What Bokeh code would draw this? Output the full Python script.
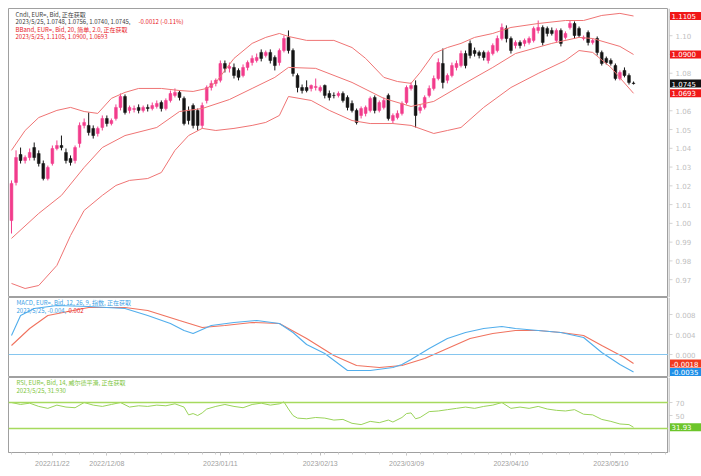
from bokeh.plotting import figure
from bokeh.layouts import column, row
from bokeh.models import Range1d, Label, FixedTicker, ColumnDataSource, Span
from bokeh.core.properties import value
from bokeh.embed import file_html
from bokeh.resources import INLINE

# ---------------- data (EUR= daily) ----------------
opens = [1.0015, 1.0218, 1.0367, 1.0335, 1.0351, 1.0404, 1.0372, 1.0319, 1.0239, 1.0319,
         1.0399, 1.0415, 1.0378, 1.0346, 1.0335, 1.0426, 1.0522, 1.0522, 1.0506, 1.0479,
         1.0511, 1.0559, 1.0532, 1.0559, 1.0618, 1.0676, 1.0602, 1.0607, 1.0618, 1.0602,
         1.0618, 1.0612, 1.0623, 1.0644, 1.0612, 1.0655, 1.0682, 1.0698, 1.0666, 1.0602,
         1.0628, 1.0602, 1.0522, 1.0655, 1.0724, 1.0746, 1.0762, 1.0852, 1.0826, 1.0831,
         1.0815, 1.0788, 1.0831, 1.0857, 1.0868, 1.0911, 1.0895, 1.0911, 1.0884, 1.0857,
         1.0921, 1.0991, 1.0921, 1.0788, 1.0724, 1.0724, 1.0719, 1.0724, 1.0708, 1.0735,
         1.0692, 1.0682, 1.0682, 1.0692, 1.0671, 1.0639, 1.0602, 1.0575, 1.0586, 1.0602,
         1.0671, 1.0602, 1.0618, 1.0682, 1.0548, 1.0564, 1.0586, 1.0644, 1.0719, 1.0735,
         1.0602, 1.0618, 1.0682, 1.0719, 1.0772, 1.0852, 1.0762, 1.0788, 1.0831, 1.0841,
         1.0905, 1.0959, 1.0921, 1.0911, 1.0911, 1.0868, 1.0905, 1.0921, 1.0985, 1.1039,
         1.0985, 1.0948, 1.0964, 1.0959, 1.0964, 1.0975, 1.1028, 1.1044, 1.1039, 1.1028,
         1.0975, 1.1028, 1.0991, 1.1044, 1.1065, 1.1039, 1.0985, 1.1017, 1.0964, 1.0985,
         1.0911, 1.0879, 1.0868, 1.0841, 1.0772, 1.0815, 1.0788, 1.0748]
highs = [1.0229, 1.0389, 1.0404, 1.0362, 1.0399, 1.0431, 1.0389, 1.0335, 1.0308, 1.0415,
         1.0442, 1.0468, 1.0399, 1.0362, 1.0415, 1.0538, 1.0559, 1.0591, 1.0522, 1.0516,
         1.0575, 1.0575, 1.0559, 1.0634, 1.0692, 1.0687, 1.0628, 1.0628, 1.0634, 1.0628,
         1.0634, 1.0644, 1.0655, 1.0655, 1.0666, 1.0708, 1.0719, 1.0708, 1.0676, 1.0623,
         1.0639, 1.0612, 1.0644, 1.0735, 1.0762, 1.0772, 1.0868, 1.0868, 1.0857, 1.0852,
         1.0826, 1.0847, 1.0868, 1.0895, 1.0905, 1.0927, 1.0921, 1.0927, 1.0895, 1.0932,
         1.1001, 1.1028, 1.0932, 1.0799, 1.0740, 1.0762, 1.0740, 1.0772, 1.0735, 1.0740,
         1.0708, 1.0698, 1.0703, 1.0703, 1.0682, 1.0655, 1.0612, 1.0623, 1.0628, 1.0676,
         1.0682, 1.0655, 1.0671, 1.0692, 1.0586, 1.0602, 1.0650, 1.0735, 1.0751, 1.0762,
         1.0634, 1.0682, 1.0735, 1.0788, 1.0879, 1.0932, 1.0799, 1.0857, 1.0868, 1.0921,
         1.0921, 1.0975, 1.0937, 1.0921, 1.0921, 1.0921, 1.0959, 1.1001, 1.1065, 1.1055,
         1.0996, 1.0975, 1.0975, 1.0985, 1.0996, 1.1049, 1.1081, 1.1055, 1.1049, 1.1044,
         1.1039, 1.1039, 1.1023, 1.1081, 1.1076, 1.1049, 1.1001, 1.1028, 1.0985, 1.0996,
         1.0921, 1.0889, 1.0879, 1.0852, 1.0815, 1.0831, 1.0799, 1.0756]
lows = [0.9946, 1.0202, 1.0319, 1.0319, 1.0335, 1.0335, 1.0303, 1.0229, 1.0229, 1.0308,
        1.0389, 1.0389, 1.0319, 1.0308, 1.0319, 1.0404, 1.0506, 1.0468, 1.0452, 1.0463,
        1.0495, 1.0516, 1.0522, 1.0548, 1.0602, 1.0580, 1.0586, 1.0591, 1.0586, 1.0591,
        1.0596, 1.0602, 1.0612, 1.0596, 1.0602, 1.0644, 1.0671, 1.0655, 1.0522, 1.0527,
        1.0506, 1.0495, 1.0506, 1.0639, 1.0708, 1.0730, 1.0751, 1.0804, 1.0804, 1.0772,
        1.0762, 1.0778, 1.0815, 1.0841, 1.0857, 1.0863, 1.0884, 1.0852, 1.0815, 1.0841,
        1.0911, 1.0905, 1.0783, 1.0698, 1.0692, 1.0698, 1.0703, 1.0708, 1.0698, 1.0666,
        1.0655, 1.0666, 1.0671, 1.0644, 1.0602, 1.0591, 1.0527, 1.0559, 1.0570, 1.0591,
        1.0586, 1.0591, 1.0607, 1.0548, 1.0532, 1.0554, 1.0575, 1.0634, 1.0708, 1.0511,
        1.0586, 1.0607, 1.0671, 1.0708, 1.0762, 1.0719, 1.0746, 1.0778, 1.0815, 1.0831,
        1.0826, 1.0879, 1.0889, 1.0879, 1.0868, 1.0852, 1.0895, 1.0911, 1.0975, 1.0964,
        1.0905, 1.0932, 1.0932, 1.0943, 1.0953, 1.0964, 1.1012, 1.0948, 1.0996, 1.1001,
        1.0964, 1.0943, 1.0980, 1.1033, 1.0985, 1.0991, 1.0975, 1.0948, 1.0953, 1.0895,
        1.0841, 1.0847, 1.0841, 1.0762, 1.0762, 1.0778, 1.0740, 1.0740]
closes = [1.0213, 1.0351, 1.0335, 1.0351, 1.0378, 1.0351, 1.0319, 1.0239, 1.0298, 1.0399,
          1.0415, 1.0404, 1.0335, 1.0325, 1.0404, 1.0522, 1.0538, 1.0484, 1.0468, 1.0506,
          1.0559, 1.0532, 1.0548, 1.0618, 1.0676, 1.0591, 1.0618, 1.0612, 1.0602, 1.0618,
          1.0612, 1.0628, 1.0639, 1.0612, 1.0655, 1.0692, 1.0698, 1.0671, 1.0532, 1.0548,
          1.0522, 1.0522, 1.0628, 1.0724, 1.0746, 1.0762, 1.0852, 1.0826, 1.0836, 1.0788,
          1.0778, 1.0831, 1.0857, 1.0879, 1.0884, 1.0879, 1.0911, 1.0868, 1.0841, 1.0921,
          1.0985, 1.0921, 1.0799, 1.0724, 1.0708, 1.0708, 1.0735, 1.0730, 1.0724, 1.0682,
          1.0671, 1.0681, 1.0692, 1.0655, 1.0618, 1.0602, 1.0538, 1.0612, 1.0618, 1.0666,
          1.0602, 1.0644, 1.0655, 1.0559, 1.0575, 1.0586, 1.0639, 1.0724, 1.0735, 1.0575,
          1.0618, 1.0671, 1.0719, 1.0772, 1.0857, 1.0751, 1.0788, 1.0841, 1.0852, 1.0905,
          1.0841, 1.0895, 1.0905, 1.0895, 1.0884, 1.0911, 1.0948, 1.0985, 1.1044, 1.0985,
          1.0921, 1.0964, 1.0948, 1.0975, 1.0985, 1.1039, 1.1044, 1.0964, 1.1012, 1.1012,
          1.1028, 1.0959, 1.1012, 1.1065, 1.1001, 1.1001, 1.0991, 1.0964, 1.0975, 1.0911,
          1.0852, 1.0857, 1.0852, 1.0772, 1.0804, 1.0788, 1.0751, 1.0745]

# Bollinger bands (20, 2.0) read at sample candles
bb_up_x = [0, 3, 6, 10, 13, 16, 19, 22, 25, 28, 33, 37, 40, 43, 45, 49, 53, 56, 59, 61,
           65, 71, 75, 78, 82, 85, 88, 90, 93, 96, 99, 102, 106, 110, 116, 122, 126, 130, 134, 137]
bb_up = [1.0389, 1.0495, 1.0564, 1.0602, 1.0618, 1.0596, 1.0586, 1.0666, 1.0698, 1.0719,
         1.0719, 1.0708, 1.0703, 1.0719, 1.0751, 1.0879, 1.0959, 1.0991, 1.1012, 1.0996,
         1.0975, 1.0975, 1.0937, 1.0879, 1.0778, 1.0756, 1.0746, 1.0804, 1.0905, 1.0937,
         1.0959, 1.0991, 1.1012, 1.1044, 1.1065, 1.1081, 1.1081, 1.1108, 1.1119, 1.1105]
bb_mid_x = [0, 6, 11, 16, 20, 25, 32, 37, 42, 48, 53, 58, 61, 67, 75, 82, 88, 93, 99, 106,
            111, 119, 125, 128, 134, 137]
bb_mid = [0.9920, 1.0053, 1.0149, 1.0298, 1.0404, 1.0468, 1.0511, 1.0596, 1.0612, 1.0660,
          1.0719, 1.0778, 1.0831, 1.0826, 1.0751, 1.0666, 1.0623, 1.0650, 1.0735, 1.0831,
          1.0905, 1.0959, 1.0991, 1.0985, 1.0943, 1.0900]
bb_low_x = [0, 3, 6, 10, 13, 16, 20, 23, 26, 30, 33, 36, 39, 42, 45, 49, 53, 56, 59, 61,
            66, 70, 75, 79, 84, 88, 93, 96, 99, 104, 110, 116, 122, 125, 128, 132, 137]
bb_low = [0.9680, 0.9653, 0.9669, 0.9776, 0.9935, 1.0069, 1.0149, 1.0202, 1.0229, 1.0239,
          1.0271, 1.0389, 1.0468, 1.0506, 1.0495, 1.0506, 1.0522, 1.0538, 1.0575, 1.0676,
          1.0655, 1.0602, 1.0548, 1.0532, 1.0532, 1.0522, 1.0479, 1.0495, 1.0511, 1.0618,
          1.0724, 1.0799, 1.0868, 1.0921, 1.0911, 1.0831, 1.0693]

# MACD (12, 26, 9)
macd_x = [0, 2, 5, 10, 17, 25, 30, 35, 38, 40, 42, 44, 49, 54, 59, 62, 65, 69, 74, 79,
          84, 86, 88, 92, 96, 100, 104, 108, 111, 116, 121, 126, 130, 134, 137]
macd = [0.0038, 0.0078, 0.0092, 0.0098, 0.0096, 0.0092, 0.0078, 0.0062, 0.0048, 0.0042,
        0.0050, 0.0058, 0.0064, 0.0068, 0.0062, 0.0044, 0.0020, 0.0002, -0.0032, -0.0032,
        -0.0026, -0.0020, -0.0010, 0.0012, 0.0032, 0.0044, 0.0052, 0.0056, 0.0052, 0.0048,
        0.0044, 0.0034, 0.0004, -0.0020, -0.0035]
signal_x = [0, 4, 8, 17, 25, 30, 37, 42, 47, 53, 59, 65, 71, 76, 81, 86, 91, 96, 101, 106,
            111, 116, 121, 126, 130, 135, 137]
signal = [0.0018, 0.0052, 0.0078, 0.0094, 0.0094, 0.0088, 0.0068, 0.0054, 0.0058, 0.0064,
          0.0062, 0.0032, -0.0002, -0.0022, -0.0026, -0.0022, -0.0008, 0.0012, 0.0032, 0.0042,
          0.0048, 0.0048, 0.0044, 0.0038, 0.0018, -0.0006, -0.0018]

# RSI (14)
rsi_x = [0, 2, 4, 6, 8, 10, 12, 14, 16, 18, 20, 22, 24, 26, 28, 30, 32, 34, 36, 38,
         39, 40, 41, 42, 43, 45, 47, 49, 51, 53, 55, 57, 59, 60, 61, 62, 63, 65, 67, 69,
         71, 73, 75, 77, 79, 81, 83, 84, 86, 87, 88, 89, 90, 92, 94, 96, 98, 100, 102, 104,
         106, 108, 110, 112, 114, 116, 118, 120, 122, 124, 126, 128, 130, 132, 134, 136, 137]
rsi = [70, 67, 69, 64, 61, 66, 63, 62, 70, 66, 64, 67, 70, 63, 65, 64, 66, 65, 68, 63,
       51, 53, 50, 54, 60, 64, 67, 64, 62, 67, 69, 66, 68, 71, 60, 50, 46, 45, 47, 46,
       43, 44, 38, 36, 41, 39, 43, 40, 47, 53, 54, 45, 47, 56, 57, 59, 61, 63, 61, 64,
       66, 70, 61, 63, 61, 64, 60, 58, 57, 59, 52, 51, 44, 41, 37, 36, 31.93]

date_ticks = [9, 21, 46, 68, 87, 110, 132]
date_labels = ["2022/11/22", "2022/12/08", "2023/01/11", "2023/02/13",
               "2023/03/09", "2023/04/10", "2023/05/10"]
price_ticks = [0.97, 0.98, 0.99, 1.00, 1.01, 1.02, 1.03, 1.04, 1.05, 1.06, 1.07, 1.08, 1.09, 1.10, 1.11]
macd_ticks = [0.0, 0.004, 0.008]
rsi_ticks = [50, 70]

# ---------------- layout ----------------
FONT = "Noto Sans CJK SC"
value_font = value("DejaVu Sans")
L, FW, SW, TOP = 8, 660, 33, 8
xr = Range1d(-0.66, 144.7)
PXX = (xr.end - xr.start) / FW

UP_C, DN_C = "#f23c8c", "#141414"
BB_C = "#ef7474"
RED, GRN, BLU = "#e82228", "#7cc53a", "#3c9fe6"
FRAME_C = "#a0a0a0"


def make_panel(frame_h, yr, top=0, bottom=0):
    p = figure(width=L + FW, height=frame_h + top + bottom, x_range=xr, y_range=yr,
               output_backend="svg", toolbar_location=None,
               y_axis_location=None, x_axis_location="below" if bottom else None,
               min_border_left=L, min_border_right=0, min_border_top=top,
               min_border_bottom=bottom)
    p.grid.visible = False
    p.outline_line_color = FRAME_C
    s = figure(width=SW, height=frame_h + top + bottom, x_range=Range1d(0, SW), y_range=yr,
               output_backend="svg", toolbar_location=None,
               y_axis_location=None, x_axis_location=None,
               min_border_left=0, min_border_right=0, min_border_top=top,
               min_border_bottom=bottom)
    s.grid.visible = False
    s.outline_line_color = None
    s.add_layout(Span(location=0.5, dimension="height", line_color=FRAME_C, line_width=1))
    return p, s


def side_ticks(s, ticks, texts):
    s.segment(x0=[1] * len(ticks), y0=ticks, x1=[4] * len(ticks), y1=ticks,
              line_color="#d4d4d4", line_width=1)
    s.text(x=[7] * len(ticks), y=ticks, text=texts, text_font=value_font,
           text_font_size="7px", text_color="#c0c0c0", text_baseline="middle")


def ypos(p, frame_h, px):
    yr = p.y_range
    return yr.end - px * (yr.end - yr.start) / frame_h


def header(p, frame_h, px_x, px_y, text, color):
    p.add_layout(Label(x=xr.start + px_x * PXX, y=ypos(p, frame_h, px_y), text=text,
                       text_font=FONT, text_font_size="6px", text_color=color,
                       text_baseline="middle", text_align="left"))


def tags(s, vals, texts, bgs):
    s.rect(x=[SW / 2 + 1] * len(vals), y=vals, width=SW - 1, height=8, height_units="screen",
           fill_color=bgs, line_color=None)
    s.text(x=[3] * len(vals), y=vals, text=texts, text_font=value_font,
           text_font_size="7px", text_color="white", text_baseline="middle")


# main panel
MH = 289
main, mside = make_panel(MH, Range1d(0.9605, 1.1145), top=TOP)
side_ticks(mside, price_ticks, ["%.2f" % t for t in price_ticks])

idx = list(range(len(closes)))
colors = [UP_C if c >= o else DN_C for o, c in zip(opens, closes)]
src = ColumnDataSource(dict(x=idx, o=opens, h=highs, l=lows, c=closes, col=colors))
main.segment("x", "h", "x", "l", source=src, line_color="col", line_width=1)
main.vbar(x="x", width=0.62, top="o", bottom="c", source=src, fill_color="col",
          line_color="col", line_width=0.5)
main.line(bb_up_x, bb_up, line_color=BB_C, line_width=1)
main.line(bb_mid_x, bb_mid, line_color=BB_C, line_width=1)
main.line(bb_low_x, bb_low, line_color=BB_C, line_width=1)

header(main, MH, 7, 6, "Cndl, EUR=, Bid, 正在获取", "#3c3c3c")
header(main, MH, 7, 13, "2023/5/25, 1.0748, 1.0756, 1.0740, 1.0745,", "#3c3c3c")
header(main, MH, 130, 13, "-0.0012 (-0.11%)", RED)
header(main, MH, 7, 21, "BBand, EUR=, Bid, 20, 简单, 2.0, 正在获取", RED)
header(main, MH, 7, 28, "2023/5/25, 1.1105, 1.0900, 1.0693", RED)

tags(mside, [bb_up[-1], bb_mid[-1], closes[-1], bb_low[-1]],
     ["%.4f" % bb_up[-1], "%.4f" % bb_mid[-1], "%.4f" % closes[-1], "%.4f" % bb_low[-1]],
     ["#f01818", "#f01818", "#111111", "#f01818"])

# MACD panel
DH = 80
mp, dside = make_panel(DH, Range1d(-0.0046, 0.0114))
side_ticks(dside, macd_ticks, ["%.3f" % t for t in macd_ticks])
mp.add_layout(Span(location=0, dimension="width", line_color="#86c6ef", line_width=1.2))
mp.line(signal_x, signal, line_color="#f0735f", line_width=1.1)
mp.line(macd_x, macd, line_color="#52aeec", line_width=1.1)
header(mp, DH, 8, 5, "MACD, EUR=, Bid, 12, 26, 9, 指数, 正在获取", BLU)
header(mp, DH, 8, 13, "2023/5/25, -0.004,", BLU)
header(mp, DH, 58, 13, "-0.002", RED)
tags(dside, [signal[-1], macd[-1]], ["%.4f" % signal[-1], "%.4f" % macd[-1]],
     ["#f03a20", "#1e8fe8"])

# RSI panel
RH, BOT = 75, 22
rp, rside = make_panel(RH, Range1d(-6.9, 108.5), bottom=BOT)
side_ticks(rside, rsi_ticks, ["%d" % t for t in rsi_ticks])
rp.add_layout(Span(location=70, dimension="width", line_color="#a6da5e", line_width=1.5))
rp.add_layout(Span(location=30, dimension="width", line_color="#a6da5e", line_width=1.5))
rp.line(rsi_x, rsi, line_color="#9ad35a", line_width=1)
header(rp, RH, 8, 5, "RSI, EUR=, Bid, 14, 威尔德平滑, 正在获取", GRN)
header(rp, RH, 8, 13, "2023/5/25, 31.930", GRN)
tags(rside, [rsi[-1]], ["%.2f" % rsi[-1]], ["#6cc52a"])

rp.xaxis.ticker = FixedTicker(ticks=date_ticks, minor_ticks=list(range(0, 145, 3)))
rp.xaxis.major_label_overrides = {t: s for t, s in zip(date_ticks, date_labels)}
rp.xaxis.major_label_text_font_size = "7px"
rp.xaxis.major_label_text_color = "#a0a0a0"
rp.xaxis.axis_line_color = FRAME_C
rp.xaxis.major_tick_line_color = "#bdbdbd"
rp.xaxis.major_tick_out = 3
rp.xaxis.major_tick_in = 0
rp.xaxis.minor_tick_line_color = "#d0d0d0"
rp.xaxis.minor_tick_out = 2
rp.xaxis.minor_tick_in = 0
rp.xaxis.major_label_standoff = 4

layout = column(row(main, mside, spacing=0), row(mp, dside, spacing=0),
                row(rp, rside, spacing=0), spacing=0)
open("out.html", "w").write(file_html(layout, INLINE))
